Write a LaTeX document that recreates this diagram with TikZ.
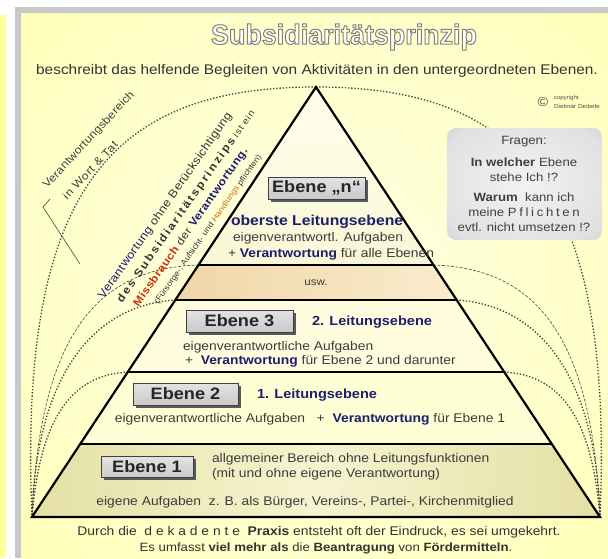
\documentclass[tikz,border=0pt]{standalone}
\usepackage{fontspec}
\setmainfont{Liberation Sans}[FakeStretch=1.1]
\newfontfamily\titlefont{Liberation Sans}[FakeStretch=0.96]
\usetikzlibrary{shadows,calc}
\definecolor{bgy}{RGB}{255,255,153}
\definecolor{bgin}{RGB}{255,255,228}
\definecolor{bgmid}{RGB}{255,255,200}
\definecolor{bgout}{RGB}{255,255,160}
\definecolor{titlefill}{RGB}{255,255,242}
\definecolor{frameg}{RGB}{200,200,200}
\definecolor{navy}{RGB}{30,30,110}
\definecolor{txtg}{RGB}{60,60,60}
\definecolor{dotg}{RGB}{70,70,70}
\definecolor{fq1}{RGB}{242,242,242}
\definecolor{fq2}{RGB}{225,225,225}
\definecolor{fq3}{RGB}{185,185,185}
\definecolor{peachL}{RGB}{240,214,168}
\definecolor{peachR}{RGB}{250,236,205}
\definecolor{creamT}{RGB}{255,255,236}
\definecolor{creamB}{RGB}{250,247,214}
\definecolor{band3}{RGB}{255,253,222}
\definecolor{band2}{RGB}{255,255,214}
\definecolor{khakiE}{RGB}{228,224,165}
\definecolor{khakiM}{RGB}{246,244,208}
\definecolor{missred}{RGB}{200,50,20}
\definecolor{handor}{RGB}{200,110,20}
\pgfdeclareradialshading{bgsh}{\pgfpoint{0bp}{0bp}}{color(0bp)=(bgin); color(25bp)=(bgmid); color(50bp)=(bgout); color(71bp)=(bgout)}
\pgfdeclareradialshading{fragsh}{\pgfpoint{0bp}{0bp}}{color(0bp)=(fq1); color(30bp)=(fq2); color(50bp)=(fq3); color(71bp)=(fq3)}
\begin{document}
\begin{tikzpicture}[x=1pt,y=-1pt,
  every node/.style={inner sep=0pt, outer sep=0pt},
  body/.style={font=\fontsize{12.6}{14}\selectfont, text=txtg},
  lvl/.style={font=\bfseries\fontsize{13.2}{16}\selectfont, text=navy},
  ebox/.style={draw=black!75, line width=0.8pt, top color=gray!22, bottom color=gray!42,
    minimum height=22pt, font=\bfseries\fontsize{16.5}{16}\selectfont, text=black!85,
    drop shadow={shadow xshift=2.5pt, shadow yshift=-2.5pt, fill=black!65, opacity=1}},
  dotc/.style={draw=dotg, line width=1.3pt, dash pattern=on 1.4pt off 1.8pt},
  dashc/.style={draw=dotg, line width=0.6pt, dash pattern=on 3pt off 1.5pt},
  fq/.style={font=\fontsize{12}{14}\selectfont, text=black!75},
  diag/.style={rotate=55, text=black!80},
]
\useasboundingbox (0,0) rectangle (608,558);
\fill[white] (0,0) rectangle (608,558);
\fill[bgy] (0,15) rectangle (6,558);
\fill[frameg] (15,7) rectangle (608,558);
\shade[shading=bgsh] (21,13) rectangle (608,558);

% title (outlined letters)
\node[font=\titlefont\bfseries\fontsize{28}{28}\selectfont, text=titlefill] (title) at (344,37)
  {\special{pdf:literal direct 2 Tr 1 w 0.5 0.5 0.5 RG}Subsidiaritätsprinzip\special{pdf:literal direct 0 Tr}};
\node[font=\fontsize{14}{15}\selectfont, text=black!80] (sub) at (317,71) {beschreibt das helfende Begleiten von Aktivitäten in den untergeordneten Ebenen.};

% copyright
\node[font=\fontsize{13}{13}\selectfont, text=black!70] (copy) at (543,102) {©};
\node[font=\fontsize{5.5}{6}\selectfont, text=black!70, anchor=west] (copyt) at (554,98) {copyright};
\node[font=\fontsize{5.8}{6}\selectfont, text=black!70, anchor=west] (copyn) at (554,106) {Dietmar Deibele};

% key points
\coordinate (A) at (32,517);
\coordinate (B) at (600,517);
\coordinate (T) at (316,87);
\coordinate (L1l) at (199,265);   \coordinate (L1r) at (433,265);
\coordinate (L2l) at (175.8,300); \coordinate (L2r) at (456.2,300);
\coordinate (L3l) at (128.1,372); \coordinate (L3r) at (503.9,372);
\coordinate (L4l) at (80.4,444);  \coordinate (L4r) at (551.6,444);

% dotted curves
\draw[dotc] (T) .. controls (110,87) and (18,190) .. (A);
\draw[dashc] (L1l) .. controls (100,268) and (40,330) .. (A);
\draw[dotc] (L2l) .. controls (90,305) and (36,380) .. (A);
\draw[dotc] (L3l) .. controls (70,375) and (40,420) .. (A);
\draw[dotc] (T) .. controls (522,87) and (614,190) .. (B);
\draw[dashc] (L1r) .. controls (532,268) and (592,330) .. (B);
\draw[dotc] (L2r) .. controls (542,305) and (596,380) .. (B);
\draw[dotc] (L3r) .. controls (562,375) and (592,420) .. (B);

% bracket
\coordinate (br1) at (50,199);
\coordinate (br2) at (43,207);
\coordinate (br3) at (80,264);
\draw[black!65, line width=0.7pt] (br1) -- (br2) -- (br3);

% pyramid fills
\shade[top color=creamT, bottom color=creamB] (T) -- (L1r) -- (L1l) -- cycle;
\shade[left color=peachL, right color=peachR] (L1l) -- (L1r) -- (L2r) -- (L2l) -- cycle;
\fill[band3] (L2l) -- (L2r) -- (L3r) -- (L3l) -- cycle;
\fill[band2] (L3l) -- (L3r) -- (L4r) -- (L4l) -- cycle;
\shade[left color=khakiE, right color=khakiE, middle color=khakiM] (L4l) -- (L4r) -- (B) -- (A) -- cycle;

% pyramid lines
\draw[line width=2.2pt, line join=miter] (T) -- (B) -- (A) -- cycle;
\draw[line width=2pt] (L1l) -- (L1r);
\draw[line width=2pt] (L2l) -- (L2r);
\draw[line width=2pt] (L3l) -- (L3r);
\draw[line width=2pt] (L4l) -- (L4r);

% Ebene n
\node[ebox, minimum width=97pt] (en) at (316.5,188) {Ebene „n“};
\node[lvl, font=\bfseries\fontsize{14.3}{16}\selectfont, anchor=west] (ob) at (231,222) {oberste Leitungsebene};
\node[body, anchor=west] (en2) at (233,238) {eigenverantwortl. Aufgaben};
\node[body, anchor=west] (en3) at (228,254) {+ \textbf{\color{navy}Verantwortung} für alle Ebenen};
\node[body, font=\fontsize{10.5}{12}\selectfont] (usw) at (316,283) {usw.};

% Ebene 3
\node[ebox, minimum width=107pt] (e3) at (239.5,321) {Ebene 3};
\node[lvl, anchor=west] (l2) at (312,322) {2. Leitungsebene};
\node[body, anchor=west] (e3a) at (183,347) {eigenverantwortliche Aufgaben};
\node[body, anchor=west] (e3b) at (185,361) {+ \ \textbf{\color{navy}Verantwortung} für Ebene 2 und darunter};

% Ebene 2
\node[ebox, minimum width=105pt] (e2) at (185.5,394) {Ebene 2};
\node[lvl, anchor=west] (l1) at (257,395) {1. Leitungsebene};
\node[body] (e2a) at (310,419) {eigenverantwortliche Aufgaben \ \ + \ \textbf{\color{navy}Verantwortung} für Ebene 1};

% Ebene 1
\node[ebox, minimum width=92pt, minimum height=21pt] (e1) at (147,467) {Ebene 1};
\node[body, anchor=west] (e1a) at (212,459) {allgemeiner Bereich ohne Leitungsfunktionen};
\node[body, anchor=west] (e1b) at (212,474) {(mit und ohne eigene Verantwortung)};
\node[body] (e1c) at (305,502) {eigene Aufgaben \ z. B. als Bürger, Vereins-, Partei-, Kirchenmitglied};

% bottom text
\node[body, text=black!80] (bt1) at (319,532) {Durch die \ d e k a d e n t e \ \textbf{Praxis} entsteht oft der Eindruck, es sei umgekehrt.};
\node[body, font=\fontsize{12}{14}\selectfont, text=black!80] (bt2) at (326,548) {Es umfasst \textbf{viel mehr als} die \textbf{Beantragung} von \textbf{Fördermitteln}.};

% Fragen box
\node[shading=fragsh, rounded corners=9pt, minimum width=155pt, minimum height=112pt] (fragen) at (524.5,184) {};
\node[fq] (f1) at (524,142) {Fragen:};
\node[fq] (f2) at (524,162) {\textbf{In welcher} Ebene};
\node[fq] (f3) at (524,177) {stehe Ich !?};
\node[fq] (f4) at (524,197) {\textbf{Warum} \ kann ich};
\node[fq] (f5) at (524,212) {meine {\addfontfeature{LetterSpace=22}Pflichten}};
\node[fq] (f6) at (524,227) {evtl. nicht umsetzen !?};

% left labels
\node[rotate=47, font=\fontsize{11}{12}\selectfont, text=black!75] (vb1) at (89,140) {\addfontfeature{LetterSpace=2}Verantwortungsbereich};
\node[rotate=47, font=\fontsize{11}{12}\selectfont, text=black!75] (vb2) at (90,170) {\addfontfeature{LetterSpace=6}in Wort \& Tat};

\node[diag, font=\fontsize{11.5}{12}\selectfont] (d1) at (165.5,206) {\addfontfeature{LetterSpace=3}{\color{navy}Verantwortung} ohne Berücksichtigung};
\node[diag, font=\fontsize{11}{12}\selectfont] (d2) at (186.2,206.5) {{\bfseries\addfontfeature{LetterSpace=18}des Subsidiaritätsprinzips} {\fontsize{9}{10}\selectfont\addfontfeature{LetterSpace=10}ist ein}};
\node[diag, font=\fontsize{11}{12}\selectfont] (d3) at (191,227.7) {\addfontfeature{LetterSpace=4}{\bfseries\color{missred}Missbrauch} der {\bfseries\color{navy}Verantwortung.}};
\node[diag, font=\fontsize{8}{9}\selectfont] (d4) at (208.2,229.4) {(Fürsorge-, Aufsicht- und {\color{handor}Handlungs} pflichten)};
\end{tikzpicture}
\end{document}
